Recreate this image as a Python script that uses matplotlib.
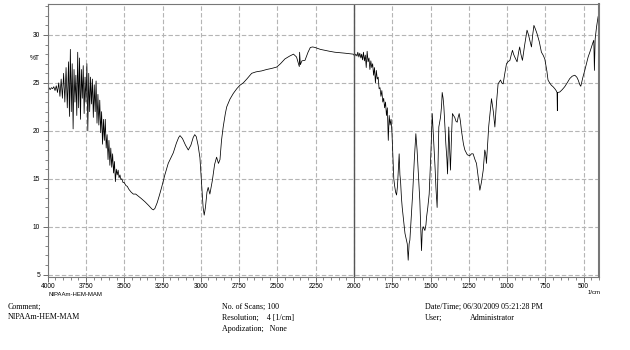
import matplotlib
matplotlib.use("Agg")
import matplotlib.pyplot as plt
from matplotlib.ticker import MultipleLocator
import numpy as np

plt.rcParams['font.family'] = ['Liberation Sans', 'DejaVu Sans']

# ---------------- spectrum data ----------------
# O-H / N-H region, very noisy
wn_oh = [4000, 3992, 3984, 3976, 3968, 3960, 3952, 3944, 3936, 3928,
         3920, 3912, 3904, 3896, 3888, 3880, 3872, 3864, 3858, 3852,
         3846, 3840, 3834, 3828, 3822, 3816, 3810, 3804, 3798, 3792,
         3786, 3780, 3774, 3768, 3762, 3756, 3750, 3744, 3738, 3732,
         3726, 3720, 3714, 3708, 3702, 3696, 3690, 3684, 3678, 3672,
         3666, 3660, 3654, 3648, 3642, 3636, 3630, 3624, 3618, 3612,
         3606, 3600, 3594, 3588, 3582, 3576, 3570, 3564, 3558, 3552,
         3546, 3540, 3534, 3528, 3522, 3516, 3508, 3500, 3490, 3480]
t_oh = [24.4, 24.5, 24.3, 24.5, 24.4, 24.6, 24.2, 24.7, 24.0, 25.0,
        23.6, 25.4, 23.4, 26.0, 23.0, 26.6, 22.4, 27.2, 21.5, 28.5,
        22.0, 27.0, 20.2, 26.4, 23.0, 25.8, 21.6, 28.2, 22.4, 27.6,
        21.2, 26.4, 23.4, 26.8, 21.8, 25.6, 23.0, 27.0, 20.0, 26.0,
        22.0, 25.6, 22.8, 25.4, 21.4, 24.8, 22.0, 25.2, 20.8, 23.8,
        20.6, 23.2, 19.8, 22.0, 18.6, 21.2, 19.0, 21.2, 18.2, 19.6,
        17.0, 19.0, 16.4, 18.2, 16.2, 17.6, 15.6, 16.8, 14.7, 16.0,
        15.4, 15.9, 15.1, 15.4, 14.9, 15.0, 14.6, 14.6, 14.3, 14.2]

# C-H stretch region and the flat plateau up to 2000
wn_ch = [3470, 3455, 3441, 3425, 3409, 3390, 3365, 3340, 3320, 3310,
         3300, 3285, 3270, 3256, 3235, 3213, 3195, 3180, 3160, 3145,
         3136, 3120, 3100, 3082, 3065, 3050, 3040, 3030, 3018, 3006,
         2995, 2985, 2978, 2970, 2960, 2952, 2941, 2925, 2910, 2897,
         2885, 2875, 2865, 2854, 2840, 2831, 2810, 2788, 2765, 2745,
         2723, 2700, 2668, 2640, 2603, 2570, 2540, 2505, 2480, 2451,
         2420, 2395, 2375, 2362, 2357, 2355, 2350, 2340, 2320, 2300,
         2285, 2270, 2255, 2220, 2190, 2160, 2125, 2090, 2059, 2030,
         2005, 1995]
t_ch = [13.9, 13.6, 13.4, 13.4, 13.2, 12.95, 12.6, 12.2, 11.85, 11.75,
        11.9, 12.5, 13.3, 14.1, 15.4, 16.6, 17.2, 17.7, 18.7, 19.3,
        19.5, 19.2, 18.5, 18.0, 18.5, 19.3, 19.6, 19.4, 18.5, 17.2,
        14.5, 12.0, 11.2, 12.0, 13.6, 14.1, 13.4, 14.8, 16.5, 17.25,
        16.6, 17.0, 19.0, 20.4, 21.8, 22.5, 23.3, 23.9, 24.4, 24.75,
        25.0, 25.4, 26.0, 26.15, 26.25, 26.4, 26.5, 26.65, 27.0, 27.5,
        27.8, 28.0, 27.7, 27.0, 26.7, 28.2, 26.9, 27.3, 27.35, 28.2,
        28.7, 28.75, 28.7, 28.5, 28.4, 28.3, 28.2, 28.15, 28.1, 28.05,
        28.0, 27.8]

# carbonyl / fingerprint region
wn_fp = [1988, 1980, 1975, 1968, 1962, 1955, 1950, 1944, 1938, 1932,
         1926, 1920, 1914, 1908, 1902, 1896, 1890, 1884, 1878, 1872,
         1866, 1860, 1854, 1848, 1842, 1836, 1830, 1824, 1818, 1812,
         1806, 1800, 1794, 1788, 1782, 1776, 1770, 1764, 1758, 1752,
         1746, 1740, 1734, 1728, 1722, 1716, 1710, 1705, 1700, 1696,
         1690, 1685, 1676, 1667, 1660, 1652, 1646, 1640, 1635, 1626,
         1617, 1606, 1596, 1588, 1581, 1575, 1570, 1562, 1559, 1554,
         1548, 1537, 1530, 1526, 1518, 1509, 1498, 1489, 1483, 1478,
         1470, 1465, 1457, 1452, 1446, 1435, 1428, 1424, 1418, 1413,
         1406, 1400, 1393, 1389, 1385, 1381, 1375, 1370, 1363, 1357,
         1350, 1342, 1334, 1326, 1320, 1313, 1305, 1298, 1285, 1276,
         1260, 1244, 1233, 1222, 1210, 1200, 1190, 1178, 1168, 1156,
         1146, 1140, 1135, 1120, 1102, 1090, 1080, 1070, 1059, 1043,
         1035, 1026, 1015, 1004, 995, 982, 972, 965, 958, 950,
         935, 925, 918, 910, 900, 885, 870, 860, 852, 841,
         833, 825, 815, 805, 790, 776, 765, 754, 740, 733,
         722, 711, 700, 689, 680, 674, 672, 670, 656, 640,
         624, 608, 591, 575, 558, 545, 536, 525, 519, 505,
         493, 471, 460, 449, 440, 434, 430, 425, 416, 406,
         400]
t_fp = [28.0, 27.8, 28.2, 27.7, 28.1, 27.6, 28.0, 27.4, 28.2, 27.3,
        27.9, 26.6, 28.3, 27.2, 27.6, 26.4, 27.3, 26.6, 27.0, 25.8,
        26.6, 25.0, 26.3, 25.4, 25.6, 24.4, 24.5, 23.6, 24.2, 23.0,
        23.4, 22.4, 23.0, 21.6, 22.4, 19.0, 21.6, 20.6, 21.2, 19.8,
        17.5, 15.0, 14.2, 13.6, 13.3, 14.2, 16.0, 17.6, 15.4, 14.8,
        13.0, 12.0, 10.6, 9.3, 8.8, 8.2, 6.5, 8.2, 8.6, 11.0,
        13.4, 17.0, 19.7, 18.0, 15.9, 14.0, 12.7, 9.0, 7.5, 9.6,
        10.0, 9.6, 10.2, 11.0, 12.0, 13.4, 17.6, 21.8, 20.0, 18.6,
        16.0, 14.1, 12.0, 16.0, 20.4, 21.4, 22.6, 24.0, 23.4, 22.5,
        20.5, 18.6, 17.0, 15.5, 18.0, 20.4, 18.0, 15.9, 19.5, 21.8,
        21.6, 21.4, 21.0, 20.9, 21.4, 21.8, 21.0, 20.0, 18.6, 18.0,
        17.5, 17.4, 17.6, 17.6, 17.0, 16.6, 15.3, 13.8, 14.6, 15.9,
        18.0, 17.6, 16.6, 20.5, 23.35, 22.0, 20.4, 22.8, 24.9, 25.3,
        25.0, 24.9, 26.0, 27.0, 27.2, 27.35, 28.0, 28.4, 28.0, 27.7,
        27.2, 28.2, 28.75, 28.0, 27.35, 29.0, 30.5, 30.0, 29.45, 28.75,
        30.0, 31.0, 30.6, 30.15, 29.3, 28.2, 27.9, 27.5, 26.2, 25.3,
        25.0, 24.75, 24.6, 24.4, 24.2, 24.0, 22.1, 24.0, 24.05, 24.3,
        24.6, 25.0, 25.45, 25.7, 25.8, 25.6, 25.3, 24.8, 24.65, 25.6,
        26.3, 27.7, 28.2, 28.75, 29.2, 29.45, 26.3, 29.6, 30.85, 31.9,
        32.2]

x_major = [4000, 3750, 3500, 3250, 3000, 2750, 2500, 2250, 2000,
           1750, 1500, 1250, 1000, 750, 500]
y_major = [5, 10, 15, 20, 25, 30]

wn = np.array(wn_oh + wn_ch + wn_fp)
t = np.array(t_oh + t_ch + t_fp)

# ---------------- figure ----------------
fig = plt.figure(figsize=(6.3, 3.5), dpi=100)
ax = fig.add_axes([0.0757, 0.21, 0.8751, 0.7777])

ax.plot(wn, t, color='black', lw=0.55)

ax.set_xlim(4000, 400)
ax.set_ylim(4.8, 33.2)
ax.set_xticks(x_major)
ax.set_xticklabels([str(v) for v in x_major])
ax.xaxis.set_minor_locator(MultipleLocator(50))
ax.set_yticks(y_major)
ax.set_yticklabels([str(v) for v in y_major])
ax.tick_params(axis='x', which='major', pad=1)
ax.yaxis.set_minor_locator(MultipleLocator(1))
ax.tick_params(axis='both', which='major', labelsize=4.8, length=3.5,
               width=0.6, color='#555555')
ax.tick_params(axis='x', which='major', pad=1)
ax.tick_params(axis='y', which='major', pad=2)
ax.tick_params(axis='both', which='minor', length=2, width=0.5, color='#555555')

ax.grid(True, which='major', color='#b5b5b5', ls=(0, (4, 2)), lw=0.8)
ax.axvline(2000, color='#555555', lw=1.0)
for s in ax.spines.values():
    s.set_color('#777777')
    s.set_linewidth(0.8)
ax.spines['right'].set_linewidth(1.5)

fig.text(30 / 630, 1 - 58 / 350, '%T', fontsize=4.8, ha='left', va='center')
fig.text(75 / 630, 1 - 294 / 350, 'NIPAAm-HEM-MAM', fontsize=4.3,
         ha='center', va='center')
fig.text(594 / 630, 1 - 293 / 350, '1/cm', fontsize=4.3, ha='center', va='center')

# ---------------- footer ----------------
serif = dict(family='Liberation Serif', fontsize=5.8, va='center', ha='left')
fig.text(8 / 630, 1 - 307 / 350, 'Comment;', **serif)
fig.text(8 / 630, 1 - 317 / 350, 'NIPAAm-HEM-MAM', **serif)
fig.text(222 / 630, 1 - 307 / 350, 'No. of Scans; 100', **serif)
fig.text(222 / 630, 1 - 318 / 350, 'Resolution;    4 [1/cm]', **serif)
fig.text(222 / 630, 1 - 329 / 350, 'Apodization;   None', **serif)
fig.text(425 / 630, 1 - 307 / 350, 'Date/Time; 06/30/2009 05:21:28 PM', **serif)
fig.text(425 / 630, 1 - 318 / 350, 'User;', **serif)
fig.text(470 / 630, 1 - 318 / 350, 'Administrator', **serif)

fig.savefig('out.png', dpi=100)
